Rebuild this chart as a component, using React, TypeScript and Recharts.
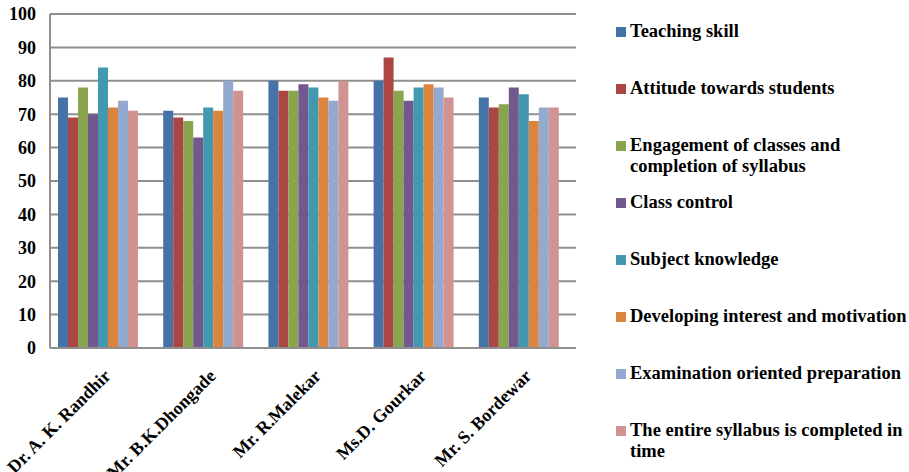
import React from 'react'
import { BarChart, Bar, XAxis, YAxis, CartesianGrid } from 'recharts'

const teachers = ['Dr. A. K. Randhir', 'Mr. B.K.Dhongade', 'Mr. R.Malekar', 'Ms.D. Gourkar', 'Mr. S. Bordewar']

const teachingSkill = [75, 71, 80, 80, 75]
const attitude = [69, 69, 77, 87, 72]
const engagement = [78, 68, 77, 77, 73]
const classControl = [70, 63, 79, 74, 78]
const subjectKnowledge = [84, 72, 78, 78, 76]
const developingInterest = [72, 71, 75, 79, 68]
const examPreparation = [74, 80, 74, 78, 72]
const syllabusCompleted = [71, 77, 80, 75, 72]

const yTicks = [0, 10, 20, 30, 40, 50, 60, 70, 80, 90, 100]

const series = [
  { key: 'teaching', name: 'Teaching skill', color: '#4572A7', values: teachingSkill },
  { key: 'attitude', name: 'Attitude towards students', color: '#AA4643', values: attitude },
  { key: 'engagement', name: 'Engagement of classes and completion of syllabus', color: '#89A54E', values: engagement },
  { key: 'control', name: 'Class control', color: '#71588F', values: classControl },
  { key: 'knowledge', name: 'Subject knowledge', color: '#4198AF', values: subjectKnowledge },
  { key: 'interest', name: 'Developing interest and motivation', color: '#DB843D', values: developingInterest },
  { key: 'exam', name: 'Examination oriented preparation', color: '#93A9CF', values: examPreparation },
  { key: 'syllabus', name: 'The entire syllabus is completed in time', color: '#D19392', values: syllabusCompleted },
]

const data = teachers.map((name, i) => {
  const row: Record<string, string | number> = { name }
  series.forEach(s => { row[s.key] = s.values[i] })
  return row
})

const FONT = "'Liberation Serif', 'DejaVu Serif', serif"

// legend labels wrap like the original (two lines for the long ones)
const legendLines: Record<string, string[]> = {
  engagement: ['Engagement of classes and', 'completion of syllabus'],
  syllabus: ['The entire syllabus is completed in', 'time'],
}

const XTick = (props: any) => {
  const { x, y, payload } = props
  return (
    <g transform={`translate(${x + 14},${y + 21})`}>
      <text
        x={0}
        y={0}
        textAnchor="end"
        transform="rotate(-45)"
        style={{ fontFamily: FONT, fontWeight: 'bold', fontSize: 18 }}
        fill="#000"
      >
        {payload.value}
      </text>
    </g>
  )
}

const Legend = () => (
  <div style={{ position: 'absolute', left: 616, top: 0, fontFamily: FONT, fontWeight: 'bold', fontSize: 18.5, color: '#000' }}>
    {series.map((s, i) => {
      const lines = legendLines[s.key] || [s.name]
      return (
        <div key={s.key} style={{ position: 'absolute', top: 21 + i * 57, left: 0, width: 300 }}>
          <span style={{ position: 'absolute', left: 0, top: 6, width: 10, height: 10, background: s.color }} />
          <div style={{ marginLeft: 14, lineHeight: '21px', whiteSpace: 'nowrap' }}>
            {lines.map((l, j) => <div key={j}>{l}</div>)}
          </div>
        </div>
      )
    })}
  </div>
)

const App: React.FC = () => {
  return (
    <div style={{ position: 'absolute', left: 0, top: 0, width: 909, height: 472, background: '#fff', overflow: 'hidden' }}>
      <BarChart
        width={909}
        height={472}
        data={data}
        margin={{ top: 14, right: 333, left: 0, bottom: 0 }}
        barCategoryGap={12}
        barGap={0}
      >
        <CartesianGrid vertical={false} stroke="#8f8f8f" strokeWidth={2} />
        <XAxis
          dataKey="name"
          height={124}
          tickLine={false}
          axisLine={{ stroke: '#8f8f8f', strokeWidth: 2 }}
          interval={0}
          padding={{ left: -5, right: 5 }}
          tick={<XTick />}
        />
        <YAxis
          width={50}
          domain={[0, 100]}
          ticks={yTicks}
          tickLine={false}
          tickSize={0}
          tickMargin={14}
          axisLine={{ stroke: '#8f8f8f', strokeWidth: 2 }}
          tick={{ fill: '#000', fontFamily: FONT, fontWeight: 'bold', fontSize: 18 }}
        />
        {series.map(s => (
          <Bar key={s.key} dataKey={s.key} name={s.name} fill={s.color} barSize={10} isAnimationActive={false} />
        ))}
      </BarChart>
      <Legend />
    </div>
  )
}

export default App
